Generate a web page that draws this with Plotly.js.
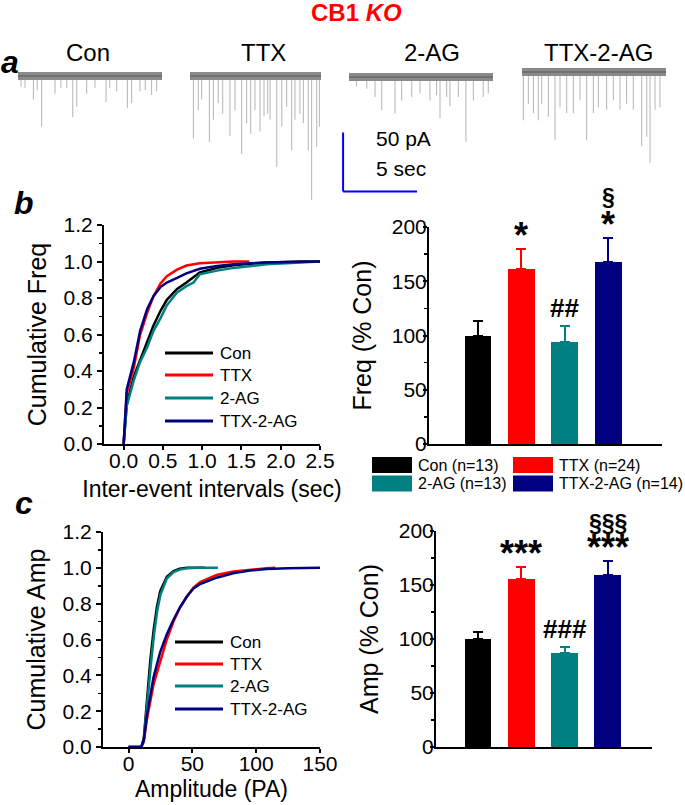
<!DOCTYPE html>
<html><head><meta charset="utf-8">
<script src="https://cdn.plot.ly/plotly-3.0.1.min.js"></script>
<style>html,body{margin:0;padding:0;background:#fff}#chart{width:685px;height:805px}</style>
</head><body><div id="chart"></div>
<script>
// ---------- data ----------
const groups = ['Con', 'TTX', '2-AG', 'TTX-2-AG'];
const groupColors = ['#000000', '#ff0000', '#008080', '#000080'];
const nCells = [13, 24, 13, 14];

// panel a: example traces (time in s, event amplitude in pA)
const traceDurations = [9.73, 8.85, 9.73, 9.73];
const traceBaselines = [0, 0, -0.8, 3.4];
const conSpikeT = [0.2, 0.47, 1.04, 1.3, 1.6, 2.5, 2.9, 3.3, 3.7, 3.97, 4.64, 5.2, 5.95, 6.2, 6.67, 7.39, 7.68, 8.24, 8.6, 9.03, 9.37];
const conSpikeA = [9, 10, 20, 12, 43, 15, 10, 10, 35, 26, 15, 10, 22, 10, 13, 27, 23, 13, 12, 16, 13];
const ttxSpikeT = [0.23, 0.56, 0.79, 1.31, 1.58, 1.91, 2.21, 2.70, 3.04, 3.49, 3.83, 4.10, 4.39, 4.73, 5.0, 5.25, 5.41, 5.86, 6.2, 6.53, 6.87, 7.09, 7.43, 7.66, 7.99, 8.22, 8.56, 8.74];
const ttxSpikeA = [53, 29, 20, 56, 37, 23, 32, 51, 29, 66, 40, 49, 29, 47, 34, 32, 37, 77, 43, 26, 63, 37, 32, 40, 63, 105, 60, 43];
const agSpikeT = [0.5, 1.2, 1.76, 2.21, 3.11, 3.56, 4.24, 4.8, 5.47, 5.92, 6.15, 6.6, 6.82, 7.39, 7.9, 8.4, 9.07, 9.41];
const agSpikeA = [8, 10, 17, 28, 31, 20, 17, 14, 20, 15.5, 35, 17, 25, 17, 55, 20, 17, 14];
const ttxagSpikeT = [0.09, 0.43, 0.77, 1.1, 1.33, 1.78, 2.23, 2.57, 3.02, 3.47, 3.92, 4.37, 4.82, 5.16, 5.72, 6.17, 6.62, 7.07, 7.52, 8.09, 8.43, 8.65, 8.99, 9.32];
const ttxagSpikeA = [41, 27, 35, 41, 27, 38, 58, 30, 35, 35, 24, 58, 35, 30, 32, 24, 32, 27, 32, 63, 55, 77, 32, 30];
const scaleBarPA = 50;
const scaleBarSec = 5;

// panel b: cumulative inter-event intervals (sec)
const conIEI_x = [0, 0.04, 0.13, 0.21, 0.30, 0.38, 0.47, 0.55, 0.68, 0.80, 0.97, 1.19, 1.40, 1.82, 2.25, 2.5];
const conIEI_y = [0, 0.22, 0.37, 0.46, 0.56, 0.65, 0.73, 0.79, 0.85, 0.885, 0.94, 0.965, 0.98, 0.995, 1.0, 1.0];
const ttxIEI_x = [0, 0.04, 0.13, 0.21, 0.30, 0.38, 0.47, 0.55, 0.68, 0.80, 0.97, 1.19, 1.40, 1.60];
const ttxIEI_y = [0, 0.28, 0.42, 0.60, 0.72, 0.81, 0.88, 0.92, 0.955, 0.978, 0.99, 0.995, 1.0, 1.0];
const agIEI_x = [0, 0.04, 0.13, 0.21, 0.30, 0.38, 0.47, 0.55, 0.68, 0.80, 0.89, 0.97, 1.19, 1.40, 1.82, 2.25, 2.5];
const agIEI_y = [0, 0.21, 0.35, 0.45, 0.53, 0.62, 0.69, 0.76, 0.83, 0.865, 0.885, 0.93, 0.95, 0.965, 0.985, 0.995, 1.0];
const ttxagIEI_x = [0, 0.04, 0.13, 0.21, 0.30, 0.38, 0.47, 0.55, 0.68, 0.80, 0.97, 1.19, 1.40, 1.82, 2.5];
const ttxagIEI_y = [0, 0.30, 0.45, 0.62, 0.74, 0.81, 0.86, 0.885, 0.91, 0.935, 0.96, 0.975, 0.985, 0.995, 1.0];

// panel b: frequency (% Con)
const freqMean = [100, 161.3, 94.3, 168];
const freqSem = [13.4, 18.4, 14.7, 21.6];
const freqMarks = ['', '*', '##', '*'];
const freqMarks2 = ['', '', '', '§'];

// panel c: cumulative amplitude (pA)
const conAmp_x = [0, 10, 12, 14.3, 17, 19.6, 22.2, 24.8, 30, 35, 40, 46, 60];
const conAmp_y = [0, 0, 0.05, 0.26, 0.48, 0.65, 0.78, 0.87, 0.95, 0.98, 0.995, 1.0, 1.0];
const ttxAmp_x = [0, 10, 12, 14.3, 19.6, 24.8, 30, 35.2, 40.4, 45.7, 50.9, 56.1, 69, 82, 95, 108, 115];
const ttxAmp_y = [0, 0, 0.03, 0.15, 0.35, 0.48, 0.60, 0.70, 0.78, 0.84, 0.89, 0.92, 0.96, 0.98, 0.99, 0.997, 1.0];
const agAmp_x = [0, 10, 12, 14.5, 17.5, 20, 22.5, 25, 30, 35, 40, 46, 55, 70];
const agAmp_y = [0, 0, 0.04, 0.24, 0.46, 0.63, 0.76, 0.85, 0.94, 0.975, 0.99, 0.997, 1.0, 1.0];
const ttxagAmp_x = [0, 10, 12, 14.3, 19.6, 24.8, 30, 35.2, 40.4, 45.7, 50.9, 56.1, 69, 82, 95, 108, 125, 150];
const ttxagAmp_y = [0, 0, 0.04, 0.17, 0.39, 0.53, 0.63, 0.71, 0.78, 0.84, 0.885, 0.91, 0.945, 0.97, 0.985, 0.993, 0.998, 1.0];

// panel c: amplitude (% Con)
const ampMean = [100, 155.5, 87.3, 159.3];
const ampSem = [6.5, 10.9, 5.0, 13.2];
const ampMarks = ['', '***', '###', '***'];
const ampMarks2 = ['', '', '', '§§§'];

// ---------- helpers ----------
const W = 685, H = 805;
const FONT = 'Liberation Sans, Arial, Helvetica, sans-serif';
const px = v => v / W;
const py = v => 1 - v / H;
const dom = (a, b) => [px(a), px(b)];
const vdom = (top, bottom) => [py(bottom), py(top)];

const traces = [];
const shapes = [];
const annotations = [];

// ---------- panel a ----------
const spikeSets = [[conSpikeT, conSpikeA], [ttxSpikeT, ttxSpikeA], [agSpikeT, agSpikeA], [ttxagSpikeT, ttxagSpikeA]];
const traceAxes = ['x5', 'x6', 'x7', 'x8'];
spikeSets.forEach(([ts, as], i) => {
  const b = traceBaselines[i];
  const xs = [], ys = [];
  ts.forEach((t, k) => { xs.push(t, t, null); ys.push(b, b - as[k], null); });
  traces.push({type: 'scatter', mode: 'lines', x: xs, y: ys, xaxis: traceAxes[i], yaxis: 'y5',
    line: {color: '#b4b4b4', width: 1}, hoverinfo: 'skip', showlegend: false});
  traces.push({type: 'scatter', mode: 'lines', x: [0, traceDurations[i]], y: [b, b], xaxis: traceAxes[i], yaxis: 'y5',
    line: {color: '#8a8a8a', width: 8}, hoverinfo: 'skip', showlegend: false});
  traces.push({type: 'scatter', mode: 'lines', x: [0, traceDurations[i]], y: [b, b], xaxis: traceAxes[i], yaxis: 'y5',
    line: {color: '#707070', width: 2}, hoverinfo: 'skip', showlegend: false});
});
// scale bar on the 2-AG trace axes
const sbX = -0.4, sbY = -98;
shapes.push({type: 'line', xref: 'x7', yref: 'y5', x0: sbX, x1: sbX, y0: sbY, y1: sbY + scaleBarPA, line: {color: '#0000ff', width: 2}});
shapes.push({type: 'line', xref: 'x7', yref: 'y5', x0: sbX, x1: sbX + scaleBarSec, y0: sbY, y1: sbY, line: {color: '#0000ff', width: 2}});
annotations.push({xref: 'paper', yref: 'paper', x: px(374), y: py(138), xanchor: 'left', yanchor: 'middle', showarrow: false,
  text: scaleBarPA + ' pA', font: {family: FONT, size: 21, color: '#000'}});
annotations.push({xref: 'paper', yref: 'paper', x: px(374), y: py(168), xanchor: 'left', yanchor: 'middle', showarrow: false,
  text: scaleBarSec + ' sec', font: {family: FONT, size: 21, color: '#000'}});
const traceLabelX = [88, 263, 432, 598];
groups.forEach((g, i) => annotations.push({xref: 'paper', yref: 'paper', x: px(traceLabelX[i]), y: py(53), xanchor: 'center', yanchor: 'middle',
  showarrow: false, text: g, font: {family: FONT, size: 24, color: '#000'}}));

// ---------- CDF panels ----------
const ieiSets = [[conIEI_x, conIEI_y], [ttxIEI_x, ttxIEI_y], [agIEI_x, agIEI_y], [ttxagIEI_x, ttxagIEI_y]];
const ampSets = [[conAmp_x, conAmp_y], [ttxAmp_x, ttxAmp_y], [agAmp_x, agAmp_y], [ttxagAmp_x, ttxagAmp_y]];
ieiSets.forEach(([x, y], i) => traces.push({type: 'scatter', mode: 'lines', x, y, xaxis: 'x', yaxis: 'y', name: groups[i],
  line: {color: groupColors[i], width: 2.5}, showlegend: false}));
ampSets.forEach(([x, y], i) => traces.push({type: 'scatter', mode: 'lines', x, y, xaxis: 'x3', yaxis: 'y3', name: groups[i],
  line: {color: groupColors[i], width: 2.5}, showlegend: false}));

function lineLegend(x0, x1, tx, rows) {
  groups.forEach((g, i) => {
    shapes.push({type: 'line', xref: 'paper', yref: 'paper', x0: px(x0), x1: px(x1), y0: py(rows[i]), y1: py(rows[i]),
      line: {color: groupColors[i], width: 3}});
    annotations.push({xref: 'paper', yref: 'paper', x: px(tx), y: py(rows[i]), xanchor: 'left', yanchor: 'middle',
      showarrow: false, text: g, font: {family: FONT, size: 17, color: '#000'}});
  });
}
lineLegend(165, 213, 218, [353, 375, 398, 421]);
lineLegend(175, 223, 228, [642, 664, 686, 709]);

// ---------- bar panels ----------
function bars(xa, ya, mean, sem) {
  groups.forEach((g, i) => traces.push({type: 'bar', x: [i], y: [mean[i]], xaxis: xa, yaxis: ya, width: 0.62,
    marker: {color: groupColors[i], line: {width: 0}}, showlegend: false,
    error_y: {type: 'data', symmetric: false, array: [sem[i]], arrayminus: [0], color: groupColors[i], thickness: 2, width: 5}}));
}
bars('x2', 'y2', freqMean, freqSem);
bars('x4', 'y4', ampMean, ampSem);

function marks(xa, ya, mean, sem, m1, m2, shift1, shift2) {
  groups.forEach((g, i) => {
    const star = m1[i].startsWith('*');
    if (m1[i]) annotations.push({xref: xa, yref: ya, x: i, y: mean[i] + sem[i], xanchor: 'center', yanchor: 'bottom', showarrow: false,
      text: '<b>' + m1[i] + '</b>', yshift: star ? shift1 : 1, font: {family: FONT, size: star ? 36 : 26, color: '#000'}});
    if (m2[i]) annotations.push({xref: xa, yref: ya, x: i, y: mean[i] + sem[i], xanchor: 'center', yanchor: 'bottom', showarrow: false,
      text: '<b>' + m2[i] + '</b>', yshift: shift2, font: {family: FONT, size: 23, color: '#000'}});
  });
}
marks('x2', 'y2', freqMean, freqSem, freqMarks, freqMarks2, -9, 26);
marks('x4', 'y4', ampMean, ampSem, ampMarks, ampMarks2, -9, 23);

// bar legend
const swX = [372, 513], rowY = [465, 483.5];
groups.forEach((g, i) => {
  const c = i % 2, r = Math.floor(i / 2);
  shapes.push({type: 'rect', xref: 'paper', yref: 'paper', x0: px(swX[c]), x1: px(swX[c] + 40), y0: py(rowY[r] + 8), y1: py(rowY[r] - 8),
    fillcolor: groupColors[i], line: {width: 0}});
  annotations.push({xref: 'paper', yref: 'paper', x: px(swX[c] + 44), y: py(rowY[r]), xanchor: 'left', yanchor: 'middle', showarrow: false,
    text: g + ' (n=' + nCells[i] + ')', font: {family: FONT, size: 16, color: '#000'}});
});

// heading and panel letters
annotations.push({xref: 'paper', yref: 'paper', x: px(356), y: py(13), xanchor: 'center', yanchor: 'middle', showarrow: false,
  text: '<b>CB1 <i>KO</i></b>', font: {family: FONT, size: 24, color: '#ff0000'}});
[['a', 10, 62], ['b', 24, 203], ['c', 24, 503]].forEach(([t, x, y]) => annotations.push({xref: 'paper', yref: 'paper', x: px(x), y: py(y),
  xanchor: 'center', yanchor: 'middle', showarrow: false, text: '<b><i>' + t + '</i></b>', font: {family: FONT, size: 32, color: '#000'}}));

// ---------- axes ----------
const tickFont = {family: FONT, size: 21, color: '#000'};
const xTitleFont = {family: FONT, size: 23, color: '#000'};
const yTitleFont = {family: FONT, size: 25, color: '#000'};
const baseAx = {showline: true, linecolor: '#000', linewidth: 2, showgrid: false, zeroline: false, ticks: 'outside',
  ticklen: 5, tickwidth: 2, tickcolor: '#000', tickfont: tickFont, fixedrange: true};
const minorY = (d) => ({dtick: d, ticks: 'outside', ticklen: 3, tickwidth: 1.5, tickcolor: '#000'});
const hidden = {visible: false, fixedrange: true};

const layout = {
  width: W, height: H, margin: {l: 0, r: 0, t: 0, b: 0}, paper_bgcolor: '#fff', plot_bgcolor: 'rgba(0,0,0,0)',
  showlegend: false, hovermode: false, bargap: 0,
  // b left
  xaxis: Object.assign({}, baseAx, {domain: dom(104, 320), anchor: 'y', range: [-0.25, 2.5], tick0: 0, dtick: 0.5, tickformat: '.1f',
    ticklen: 4, ticklabelstandoff: -7, title: {text: 'Inter-event intervals (sec)', font: xTitleFont, standoff: 10}}),
  yaxis: Object.assign({}, baseAx, {domain: vdom(225, 444), anchor: 'x', range: [0, 1.2], dtick: 0.2, tickformat: '.1f',
    minor: minorY(0.1), title: {text: 'Cumulative Freq', font: yTitleFont, standoff: 10}}),
  // b right
  xaxis2: Object.assign({}, baseAx, {domain: dom(429, 662), anchor: 'y2', range: [-1.13, 4.24], ticks: '', showticklabels: false}),
  yaxis2: Object.assign({}, baseAx, {domain: vdom(227, 444), anchor: 'x2', range: [0, 200], dtick: 50, ticklen: 4, ticklabelstandoff: -8,
    minor: minorY(25), title: {text: 'Freq (% Con)', font: yTitleFont, standoff: 13}}),
  // c left
  xaxis3: Object.assign({}, baseAx, {domain: dom(103, 320), anchor: 'y3', range: [-20, 150], tick0: 0, dtick: 50,
    ticklen: 4, ticklabelstandoff: -7, title: {text: 'Amplitude (PA)', font: xTitleFont, standoff: 7}}),
  yaxis3: Object.assign({}, baseAx, {domain: vdom(532, 747), anchor: 'x3', range: [0, 1.2], dtick: 0.2, tickformat: '.1f',
    minor: minorY(0.1), title: {text: 'Cumulative Amp', font: yTitleFont, standoff: 10}}),
  // c right
  xaxis4: Object.assign({}, baseAx, {domain: dom(436, 652), anchor: 'y4', range: [-0.97, 4.02], ticks: '', showticklabels: false}),
  yaxis4: Object.assign({}, baseAx, {domain: vdom(531, 747), anchor: 'x4', range: [0, 200], dtick: 50, ticklen: 4, ticklabelstandoff: -8,
    minor: minorY(25), title: {text: 'Amp (% Con)', font: yTitleFont, standoff: 13}}),
  // traces
  xaxis5: Object.assign({}, hidden, {domain: dom(18, 162), anchor: 'y5', range: [0, traceDurations[0]]}),
  xaxis6: Object.assign({}, hidden, {domain: dom(190, 321), anchor: 'y5', range: [0, traceDurations[1]]}),
  xaxis7: Object.assign({}, hidden, {domain: dom(341.6, 493), anchor: 'y5', range: [-0.5, traceDurations[2]]}),
  xaxis8: Object.assign({}, hidden, {domain: dom(522, 666), anchor: 'y5', range: [0, traceDurations[3]]}),
  yaxis5: Object.assign({}, hidden, {domain: vdom(40, 210), anchor: 'x5', range: [-113.6, 30.5]}),
  shapes, annotations
};

Plotly.newPlot('chart', traces, layout, {staticPlot: true, displayModeBar: false});
</script>
</body></html>
